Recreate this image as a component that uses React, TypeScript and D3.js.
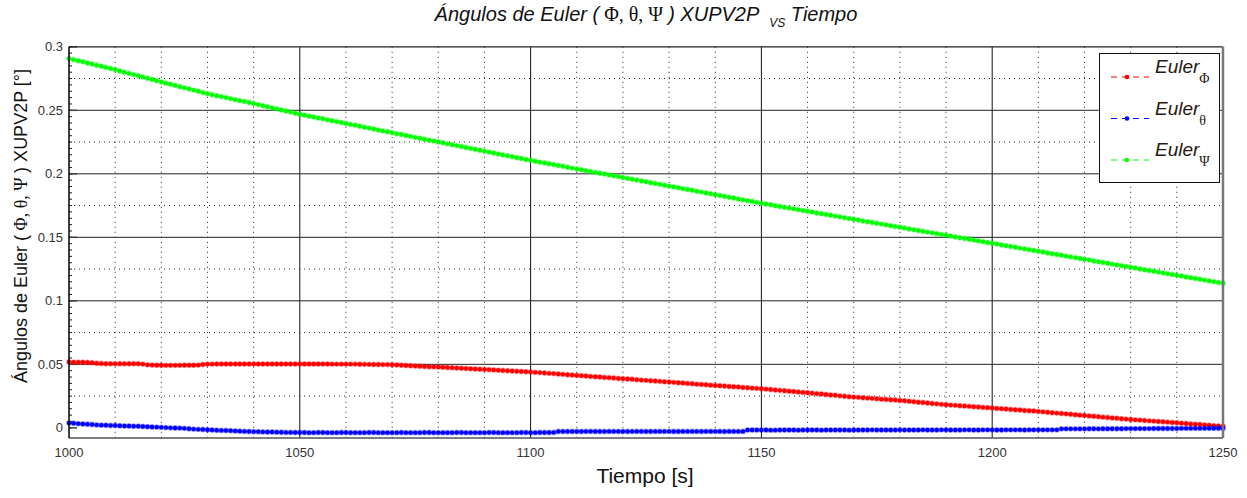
import React from "react";
import * as d3 from "d3";

const T_START = 1000;
const T_STEP = 1;

const eulerPhi = [
  0.0518, 0.0517, 0.0516, 0.0516, 0.0515, 0.0512, 0.0508, 0.0506, 0.0505, 0.0505,
  0.0505, 0.0505, 0.0505, 0.0504, 0.0504, 0.0504, 0.0502, 0.0496, 0.0494, 0.0493,
  0.0493, 0.0492, 0.0492, 0.0492, 0.0492, 0.0493, 0.0493, 0.0493, 0.0494, 0.0499,
  0.0502, 0.0502, 0.0503, 0.0503, 0.0503, 0.0503, 0.0503, 0.0503, 0.0503, 0.0503,
  0.0503, 0.0503, 0.0503, 0.0503, 0.0503, 0.0503, 0.0503, 0.0503, 0.0503, 0.0503,
  0.0503, 0.0503, 0.0503, 0.0503, 0.0503, 0.0503, 0.0503, 0.0502, 0.0502, 0.0502,
  0.0502, 0.0502, 0.0502, 0.0501, 0.0500, 0.0500, 0.0499, 0.0499, 0.0498, 0.0498,
  0.0497, 0.0495, 0.0493, 0.0491, 0.0489, 0.0487, 0.0485, 0.0483, 0.0481, 0.0480,
  0.0479, 0.0477, 0.0475, 0.0473, 0.0471, 0.0469, 0.0467, 0.0465, 0.0463, 0.0461,
  0.0460, 0.0458, 0.0456, 0.0454, 0.0452, 0.0450, 0.0448, 0.0446, 0.0444, 0.0442,
  0.0440, 0.0437, 0.0435, 0.0432, 0.0429, 0.0427, 0.0424, 0.0421, 0.0418, 0.0416,
  0.0413, 0.0410, 0.0408, 0.0405, 0.0402, 0.0400, 0.0397, 0.0395, 0.0392, 0.0389,
  0.0387, 0.0384, 0.0382, 0.0379, 0.0376, 0.0374, 0.0371, 0.0369, 0.0366, 0.0363,
  0.0361, 0.0358, 0.0355, 0.0353, 0.0350, 0.0347, 0.0344, 0.0342, 0.0339, 0.0336,
  0.0334, 0.0331, 0.0329, 0.0326, 0.0323, 0.0321, 0.0318, 0.0316, 0.0313, 0.0311,
  0.0308, 0.0305, 0.0302, 0.0298, 0.0295, 0.0292, 0.0289, 0.0286, 0.0282, 0.0279,
  0.0276, 0.0273, 0.0269, 0.0266, 0.0263, 0.0259, 0.0256, 0.0252, 0.0249, 0.0245,
  0.0242, 0.0240, 0.0237, 0.0234, 0.0232, 0.0229, 0.0226, 0.0224, 0.0221, 0.0219,
  0.0216, 0.0213, 0.0209, 0.0206, 0.0202, 0.0199, 0.0196, 0.0192, 0.0189, 0.0185,
  0.0182, 0.0179, 0.0177, 0.0174, 0.0172, 0.0169, 0.0166, 0.0164, 0.0161, 0.0159,
  0.0156, 0.0153, 0.0151, 0.0148, 0.0145, 0.0143, 0.0140, 0.0137, 0.0134, 0.0132,
  0.0129, 0.0126, 0.0123, 0.0119, 0.0116, 0.0113, 0.0110, 0.0107, 0.0103, 0.0100,
  0.0097, 0.0094, 0.0091, 0.0088, 0.0084, 0.0081, 0.0078, 0.0075, 0.0072, 0.0069,
  0.0066, 0.0063, 0.0061, 0.0058, 0.0055, 0.0053, 0.0050, 0.0048, 0.0045, 0.0042,
  0.0040, 0.0037, 0.0034, 0.0031, 0.0028, 0.0026, 0.0023, 0.0020, 0.0017, 0.0014,
  0.0012,
];

const eulerTheta = [
  0.0038, 0.0036, 0.0033, 0.0030, 0.0028, 0.0026, 0.0023, 0.0021, 0.0020, 0.0019,
  0.0018, 0.0016, 0.0015, 0.0014, 0.0013, 0.0012, 0.0010, 0.0008, 0.0007, 0.0006,
  0.0004, 0.0002, 0.0000, -0.0001, -0.0002, -0.0004, -0.0007, -0.0010, -0.0012, -0.0013,
  -0.0015, -0.0017, -0.0019, -0.0020, -0.0021, -0.0022, -0.0024, -0.0026, -0.0028, -0.0029,
  -0.0030, -0.0031, -0.0032, -0.0033, -0.0033, -0.0034, -0.0035, -0.0036, -0.0036, -0.0037,
  -0.0037, -0.0037, -0.0038, -0.0038, -0.0037, -0.0037, -0.0038, -0.0038, -0.0038, -0.0037,
  -0.0037, -0.0038, -0.0038, -0.0038, -0.0038, -0.0037, -0.0037, -0.0038, -0.0038, -0.0038,
  -0.0038, -0.0038, -0.0037, -0.0038, -0.0038, -0.0038, -0.0038, -0.0037, -0.0037, -0.0038,
  -0.0038, -0.0038, -0.0038, -0.0038, -0.0037, -0.0037, -0.0038, -0.0038, -0.0038, -0.0038,
  -0.0038, -0.0037, -0.0037, -0.0038, -0.0038, -0.0038, -0.0038, -0.0038, -0.0037, -0.0037,
  -0.0038, -0.0038, -0.0037, -0.0037, -0.0037, -0.0036, -0.0029, -0.0029, -0.0029, -0.0029,
  -0.0029, -0.0029, -0.0028, -0.0028, -0.0029, -0.0029, -0.0029, -0.0028, -0.0028, -0.0028,
  -0.0029, -0.0029, -0.0028, -0.0028, -0.0028, -0.0029, -0.0029, -0.0028, -0.0028, -0.0028,
  -0.0028, -0.0029, -0.0029, -0.0028, -0.0028, -0.0028, -0.0028, -0.0029, -0.0028, -0.0028,
  -0.0028, -0.0028, -0.0029, -0.0028, -0.0028, -0.0028, -0.0028, -0.0017, -0.0017, -0.0017,
  -0.0017, -0.0017, -0.0018, -0.0018, -0.0017, -0.0017, -0.0017, -0.0017, -0.0018, -0.0017,
  -0.0017, -0.0017, -0.0017, -0.0018, -0.0017, -0.0017, -0.0017, -0.0017, -0.0017, -0.0018,
  -0.0017, -0.0017, -0.0017, -0.0017, -0.0016, -0.0017, -0.0017, -0.0017, -0.0017, -0.0017,
  -0.0016, -0.0017, -0.0017, -0.0017, -0.0017, -0.0016, -0.0017, -0.0017, -0.0017, -0.0016,
  -0.0016, -0.0017, -0.0017, -0.0017, -0.0016, -0.0016, -0.0017, -0.0017, -0.0016, -0.0016,
  -0.0016, -0.0017, -0.0017, -0.0016, -0.0016, -0.0016, -0.0016, -0.0017, -0.0016, -0.0016,
  -0.0016, -0.0016, -0.0016, -0.0016, -0.0016, -0.0008, -0.0008, -0.0008, -0.0008, -0.0008,
  -0.0008, -0.0007, -0.0007, -0.0008, -0.0007, -0.0007, -0.0007, -0.0007, -0.0007, -0.0006,
  -0.0006, -0.0006, -0.0006, -0.0006, -0.0006, -0.0005, -0.0005, -0.0005, -0.0005, -0.0005,
  -0.0005, -0.0004, -0.0004, -0.0004, -0.0004, -0.0004, -0.0004, -0.0003, -0.0003, -0.0003,
  -0.0003,
];

const eulerPsi = [
  0.2907, 0.2899, 0.2890, 0.2882, 0.2873, 0.2864, 0.2855, 0.2847, 0.2838, 0.2829,
  0.2820, 0.2810, 0.2800, 0.2791, 0.2781, 0.2772, 0.2762, 0.2752, 0.2742, 0.2733,
  0.2723, 0.2714, 0.2705, 0.2696, 0.2686, 0.2677, 0.2668, 0.2659, 0.2650, 0.2640,
  0.2631, 0.2623, 0.2615, 0.2608, 0.2600, 0.2592, 0.2584, 0.2576, 0.2569, 0.2561,
  0.2553, 0.2545, 0.2536, 0.2528, 0.2519, 0.2511, 0.2503, 0.2494, 0.2486, 0.2477,
  0.2469, 0.2462, 0.2454, 0.2447, 0.2440, 0.2433, 0.2425, 0.2418, 0.2411, 0.2404,
  0.2396, 0.2389, 0.2382, 0.2375, 0.2367, 0.2360, 0.2353, 0.2345, 0.2338, 0.2331,
  0.2324, 0.2316, 0.2309, 0.2302, 0.2295, 0.2287, 0.2280, 0.2273, 0.2265, 0.2258,
  0.2251, 0.2244, 0.2236, 0.2229, 0.2222, 0.2215, 0.2207, 0.2200, 0.2193, 0.2185,
  0.2178, 0.2171, 0.2164, 0.2156, 0.2149, 0.2142, 0.2135, 0.2127, 0.2120, 0.2113,
  0.2106, 0.2099, 0.2092, 0.2086, 0.2079, 0.2072, 0.2065, 0.2059, 0.2052, 0.2045,
  0.2038, 0.2032, 0.2025, 0.2018, 0.2011, 0.2005, 0.1998, 0.1991, 0.1984, 0.1978,
  0.1971, 0.1964, 0.1957, 0.1951, 0.1944, 0.1937, 0.1930, 0.1924, 0.1917, 0.1910,
  0.1903, 0.1897, 0.1890, 0.1883, 0.1876, 0.1870, 0.1863, 0.1856, 0.1849, 0.1843,
  0.1836, 0.1829, 0.1822, 0.1816, 0.1809, 0.1802, 0.1795, 0.1789, 0.1782, 0.1775,
  0.1768, 0.1762, 0.1756, 0.1749, 0.1743, 0.1737, 0.1730, 0.1724, 0.1718, 0.1711,
  0.1705, 0.1699, 0.1692, 0.1686, 0.1680, 0.1674, 0.1667, 0.1661, 0.1655, 0.1648,
  0.1642, 0.1636, 0.1629, 0.1623, 0.1617, 0.1611, 0.1604, 0.1598, 0.1592, 0.1585,
  0.1579, 0.1573, 0.1566, 0.1560, 0.1554, 0.1548, 0.1541, 0.1535, 0.1529, 0.1522,
  0.1516, 0.1510, 0.1503, 0.1497, 0.1491, 0.1485, 0.1478, 0.1472, 0.1466, 0.1459,
  0.1453, 0.1447, 0.1440, 0.1434, 0.1428, 0.1422, 0.1415, 0.1409, 0.1403, 0.1396,
  0.1390, 0.1384, 0.1377, 0.1371, 0.1365, 0.1359, 0.1352, 0.1346, 0.1340, 0.1333,
  0.1327, 0.1321, 0.1314, 0.1308, 0.1302, 0.1296, 0.1289, 0.1283, 0.1277, 0.1270,
  0.1264, 0.1258, 0.1251, 0.1245, 0.1239, 0.1233, 0.1226, 0.1220, 0.1214, 0.1207,
  0.1201, 0.1195, 0.1188, 0.1182, 0.1176, 0.1170, 0.1163, 0.1157, 0.1151, 0.1144,
  0.1138,
];

const xTicks = [1000, 1050, 1100, 1150, 1200, 1250];
const xMinorGrid = [1010, 1020, 1030, 1040, 1060, 1070, 1080, 1090, 1110, 1120, 1130, 1140, 1160, 1170, 1180, 1190, 1210, 1220, 1230, 1240];
const yTicks = [0, 0.05, 0.1, 0.15, 0.2, 0.25, 0.3];
const yTickLabels = ["0", "0.05", "0.1", "0.15", "0.2", "0.25", "0.3"];
const yMinorGrid = [0.025, 0.075, 0.125, 0.175, 0.225, 0.275];

const seriesNames = ["Φ", "θ", "Ψ"];
const seriesColors = ["#ff0000", "#0000ff", "#00ff00"];
const seriesData = [eulerPhi, eulerTheta, eulerPsi];

const W = 1247;
const H = 498;
const L = 69, R = 1223, TOP = 46.8, BOT = 438;

const x = d3.scaleLinear().domain([1000, 1250]).range([L, R]);
const y = d3.scaleLinear().domain([-0.008, 0.3]).range([BOT, TOP]);

const sans = "Arial, 'Liberation Sans', Helvetica, sans-serif";
const serif = "'Times New Roman', 'Liberation Serif', 'DejaVu Serif', serif";

export default function App() {
  const line = d3
    .line<number>()
    .x((_, i) => x(T_START + i * T_STEP))
    .y((d) => y(d));

  const yMinorTicks = d3.range(0, 0.3001, 0.005);

  return (
    <svg
      width={W}
      height={H}
      style={{ position: "absolute", left: 0, top: 0, background: "#fff", display: "block" }}
    >
      <rect x={0} y={0} width={W} height={H} fill="#fff" />
      {/* title */}
      <text x={646} y={21} textAnchor="middle" fontFamily={sans} fontStyle="italic" fontSize={20} fill="#111">
        Ángulos de Euler (
        <tspan fontFamily={serif} fontStyle="normal"> Φ, θ, Ψ </tspan>
        ) XUPV2P
        <tspan dx={10} dy={6} fontSize={12}>VS</tspan>
        <tspan dy={-6}> Tiempo</tspan>
      </text>

      {/* plot background */}
      <rect x={L} y={TOP} width={R - L} height={BOT - TOP} fill="#fff" />

      {/* minor grid */}
      {xMinorGrid.map((v) => (
        <line key={"xm" + v} x1={x(v)} x2={x(v)} y1={TOP} y2={BOT} stroke="#222" strokeWidth={1} strokeDasharray="1,4" />
      ))}
      {yMinorGrid.map((v) => (
        <line key={"ym" + v} x1={L} x2={R} y1={y(v)} y2={y(v)} stroke="#222" strokeWidth={1} strokeDasharray="1,4" />
      ))}
      {/* major grid */}
      {xTicks.slice(1, -1).map((v) => (
        <line key={"xM" + v} x1={x(v)} x2={x(v)} y1={TOP} y2={BOT} stroke="#111" strokeWidth={1} />
      ))}
      {yTicks.slice(1, -1).map((v) => (
        <line key={"yM" + v} x1={L} x2={R} y1={y(v)} y2={y(v)} stroke="#222" strokeWidth={1} />
      ))}

      {/* minor ticks on y axis */}
      {yMinorTicks.map((v, i) => (
        <line key={"ymt" + i} x1={L} x2={L + 3} y1={y(v)} y2={y(v)} stroke="#222" strokeWidth={1} />
      ))}
      {yTicks.map((v) => (
        <line key={"ymt2" + v} x1={L} x2={L + 8} y1={y(v)} y2={y(v)} stroke="#444" strokeWidth={1.5} />
      ))}

      {/* series */}
      {seriesData.map((data, si) => (
        <g key={"s" + si}>
          <path d={line(data) || ""} fill="none" stroke={seriesColors[si]} strokeWidth={1} strokeDasharray="5,3" />
          {data.map((v, i) => (
            <circle key={i} cx={x(T_START + i * T_STEP)} cy={y(v)} r={2.2} fill={seriesColors[si]} stroke={seriesColors[si]} strokeOpacity={0.35} strokeWidth={1.5} />
          ))}
        </g>
      ))}

      {/* frame */}
      <line x1={L} x2={R} y1={TOP} y2={TOP} stroke="#222" strokeWidth={1.2} />
      <line x1={L} x2={R} y1={BOT} y2={BOT} stroke="#555" strokeWidth={1.5} />
      <line x1={L} x2={L} y1={TOP} y2={BOT} stroke="#000" strokeWidth={1.5} />
      <line x1={R} x2={R} y1={TOP} y2={BOT} stroke="#777" strokeWidth={2.5} />

      {/* y tick labels */}
      {yTicks.map((v, i) => (
        <text key={"yl" + v} x={63} y={y(v) + 4.5} textAnchor="end" fontFamily={sans} fontSize={13} fill="#333">
          {yTickLabels[i]}
        </text>
      ))}
      {/* x tick labels */}
      {xTicks.map((v) => (
        <text key={"xl" + v} x={x(v)} y={457} textAnchor="middle" fontFamily={sans} fontSize={13} fill="#333">
          {v}
        </text>
      ))}

      {/* axis labels */}
      <text x={645} y={483} textAnchor="middle" fontFamily={sans} fontSize={21} fill="#111">
        Tiempo [s]
      </text>
      <text transform="translate(27,226) rotate(-90)" textAnchor="middle" fontFamily={sans} fontSize={18} fill="#111">
        Ángulos de Euler (
        <tspan fontFamily={serif}> Φ, θ, Ψ </tspan>
        ) XUPV2P [°]
      </text>

      {/* legend */}
      <rect x={1099.5} y={53.5} width={120} height={129} fill="#fff" stroke="#111" strokeWidth={1} />
      {seriesNames.map((n, i) => {
        const ly = 77 + i * 41.5;
        return (
          <g key={"lg" + i}>
            <line x1={1111} x2={1149} y1={ly} y2={ly} stroke={seriesColors[i]} strokeWidth={1} strokeDasharray="6,5" />
            <circle cx={1127} cy={ly} r={2.3} fill={seriesColors[i]} />
            <text x={1155} y={ly - 4} fontFamily={sans} fontStyle="italic" fontSize={19} fill="#2a1a10">
              Euler
              <tspan fontFamily={serif} fontStyle="normal" fontSize={14} dy={10}>{n}</tspan>
            </text>
          </g>
        );
      })}
    </svg>
  );
}
